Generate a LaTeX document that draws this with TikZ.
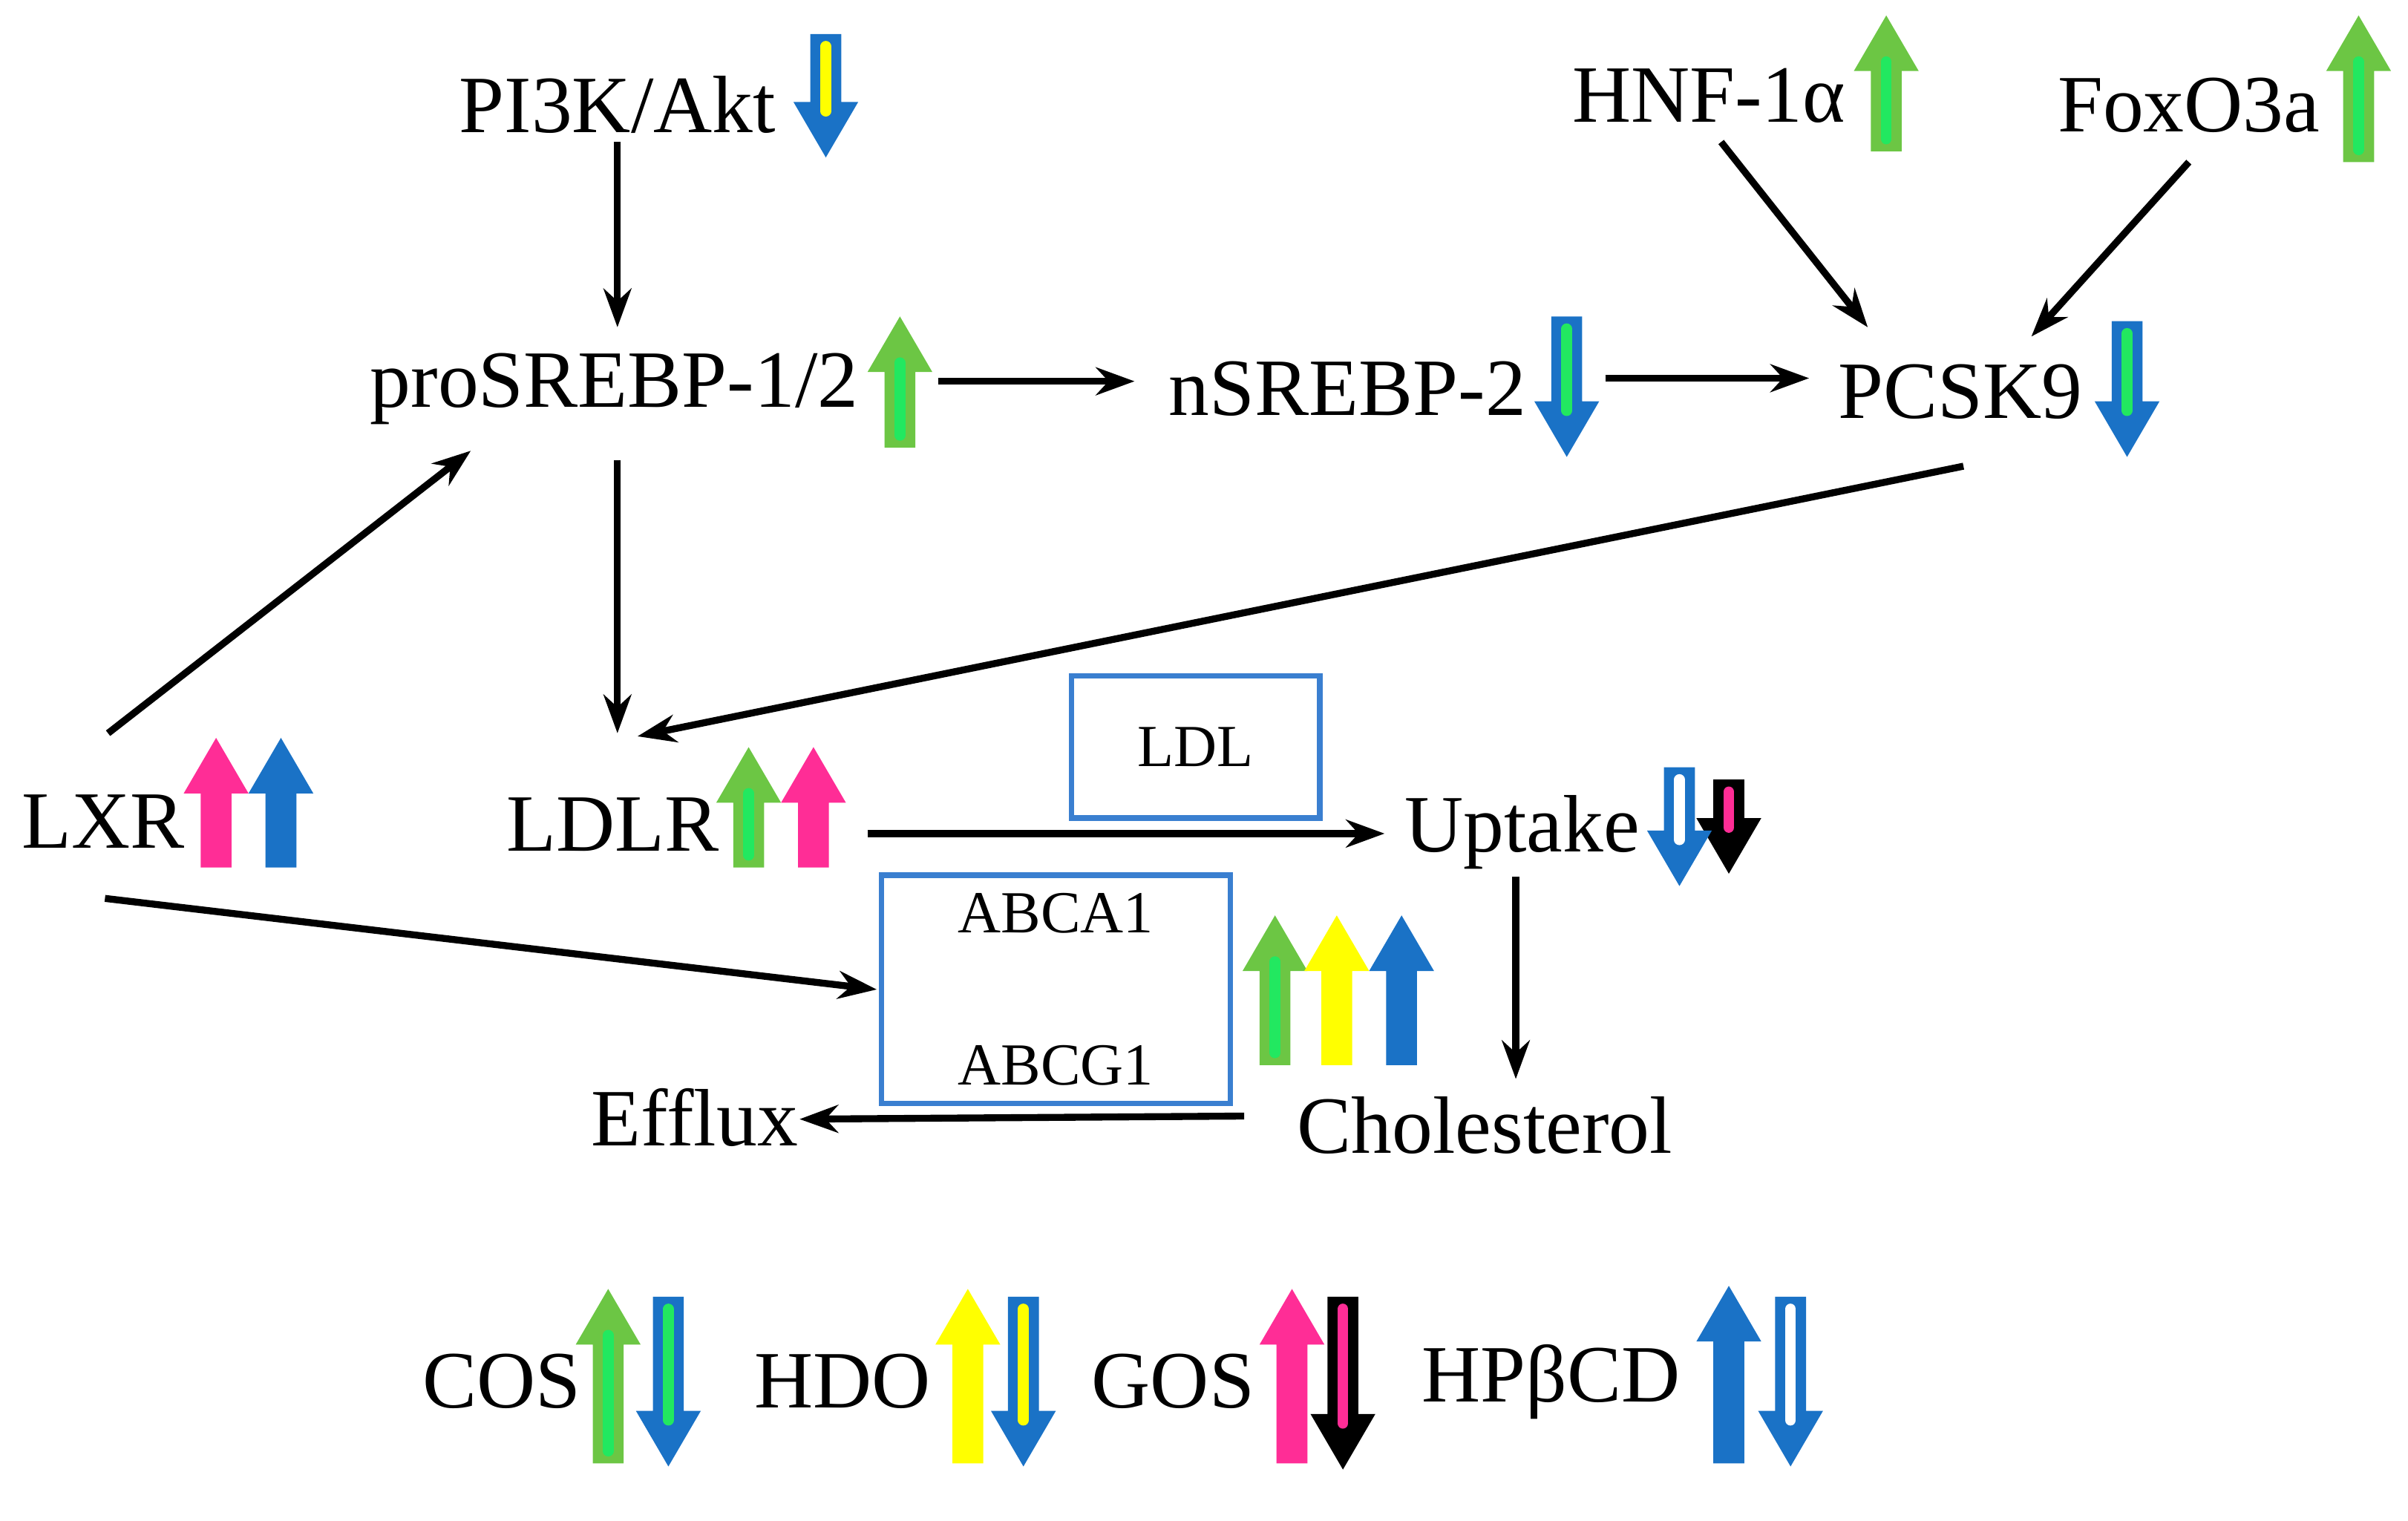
\documentclass[tikz,border=0pt]{standalone}
\usepackage{fontspec}
\setmainfont{Liberation Serif}
\usetikzlibrary{arrows.meta}
\definecolor{cg}{HTML}{6CC644}
\definecolor{cb}{HTML}{1A72C6}
\definecolor{cp}{HTML}{FF2D96}
\definecolor{cy}{HTML}{FFFF00}
\definecolor{cl}{HTML}{22E860}
\definecolor{bx}{HTML}{3A7FD0}
% up arrow: x, bottom, top, fill, stripe
\newcommand\UpA[5]{%
  \fill[#4] (#1-10,#2) -- (#1+10,#2) -- (#1+10,#3+36) -- (#1+21,#3+36) -- (#1,#3) -- (#1-21,#3+36) -- (#1-10,#3+36) -- cycle;
  \if\relax\detokenize{#5}\relax\else\draw[#5,line width=1.4mm,line cap=round] (#1,#2-8) -- (#1,#3+30);\fi}
% down arrow: x, top, bottom(tip), fill, stripe
\newcommand\DnA[5]{%
  \fill[#4] (#1-10,#2) -- (#1+10,#2) -- (#1+10,#3-36) -- (#1+21,#3-36) -- (#1,#3) -- (#1-21,#3-36) -- (#1-10,#3-36) -- cycle;
  \if\relax\detokenize{#5}\relax\else\draw[#5,line width=1.4mm,line cap=round] (#1,#2+8) -- (#1,#3-30);\fi}
\begin{document}
\begin{tikzpicture}[x=0.02cm,y=-0.02cm,
  lbl/.style={font=\fontsize{30}{34}\selectfont,inner sep=0pt},
  sm/.style={font=\fontsize{22}{26}\selectfont,inner sep=0pt},
  con/.style={-{Stealth[length=5mm,width=3.6mm]},line width=0.9mm},
  box/.style={draw=bx,line width=0.7mm}]
\useasboundingbox (0,0) rectangle (1560,985);
% labels
\node[lbl] (pi3k) at (400,68) {PI3K/Akt};
\node[lbl] (hnf) at (1107,62) {HNF-1α};
\node[lbl] (fox) at (1418,68) {FoxO3a};
\node[lbl] (pro) at (398,252) {proSREBP-1/2};
\node[lbl] (nsr) at (873,252) {nSREBP-2};
\node[lbl] (pcsk) at (1270,254) {PCSK9};
\node[lbl] (lxr) at (67,532) {LXR};
\node[lbl] (ldlr) at (397,534) {LDLR};
\node[lbl] (upt) at (986,539) {Uptake};
\node[lbl] (eff) at (450,724) {Efflux};
\node[lbl] (chol) at (962,729) {Cholesterol};
\node[box,sm,minimum width=3.22cm,minimum height=1.84cm] (ldl) at (774.5,484) {LDL};
\node[box,minimum width=4.52cm,minimum height=2.96cm,align=center,font=\fontsize{22}{56}\selectfont] (abc) at (684,641) {ABCA1\\ABCG1};
\node[lbl] (cos) at (325,895) {COS};
\node[lbl] (hdo) at (546,895) {HDO};
\node[lbl] (gos) at (760,895) {GOS};
\node[lbl] (hpb) at (1005,895) {HPβCD};
% small arrows
\DnA{535}{22}{102}{cb}{cy}
\UpA{1222}{98}{10}{cg}{cl}
\UpA{1528}{105}{10}{cg}{cl}
\UpA{583}{290}{205}{cg}{cl}
\DnA{1015}{205}{296}{cb}{cl}
\DnA{1378}{208}{296}{cb}{cl}
\UpA{140}{562}{478}{cp}{}
\UpA{182}{562}{478}{cb}{}
\UpA{485}{562}{484}{cg}{cl}
\UpA{527}{562}{484}{cp}{}
\DnA{1120}{505}{566}{black}{cp}
\DnA{1088}{497}{574}{cb}{white}
\UpA{826}{690}{593}{cg}{cl}
\UpA{866}{690}{593}{cy}{}
\UpA{908}{690}{593}{cb}{}
\UpA{394}{948}{835}{cg}{cl}
\DnA{433}{840}{950}{cb}{cl}
\UpA{627}{948}{835}{cy}{}
\DnA{663}{840}{950}{cb}{cy}
\UpA{837}{948}{835}{cp}{}
\DnA{870}{840}{952}{black}{cp}
\UpA{1120}{948}{833}{cb}{}
\DnA{1160}{840}{950}{cb}{white}
% connectors
\coordinate (a1) at (400,92); \coordinate (a2) at (400,212);
\draw[con] (a1) -- (a2);
\coordinate (b1) at (1115,92); \coordinate (b2) at (1210,212);
\draw[con] (b1) -- (b2);
\coordinate (c1) at (1418,105); \coordinate (c2) at (1316,218);
\draw[con] (c1) -- (c2);
\coordinate (d1) at (608,247); \coordinate (d2) at (735,247);
\draw[con] (d1) -- (d2);
\coordinate (e1) at (1040,245); \coordinate (e2) at (1172,245);
\draw[con] (e1) -- (e2);
\coordinate (f1) at (400,298); \coordinate (f2) at (400,475);
\draw[con] (f1) -- (f2);
\coordinate (g1) at (1272,302); \coordinate (g2) at (413,477);
\draw[con] (g1) -- (g2);
\coordinate (h1) at (70,475); \coordinate (h2) at (305,292);
\draw[con] (h1) -- (h2);
\coordinate (i1) at (562,540); \coordinate (i2) at (897,540);
\draw[con] (i1) -- (i2);
\coordinate (j1) at (68,582); \coordinate (j2) at (568,641);
\draw[con] (j1) -- (j2);
\coordinate (k1) at (982,568); \coordinate (k2) at (982,699);
\draw[con] (k1) -- (k2);
\coordinate (l1) at (806,723); \coordinate (l2) at (518,725);
\draw[con] (l1) -- (l2);
\end{tikzpicture}
\end{document}
